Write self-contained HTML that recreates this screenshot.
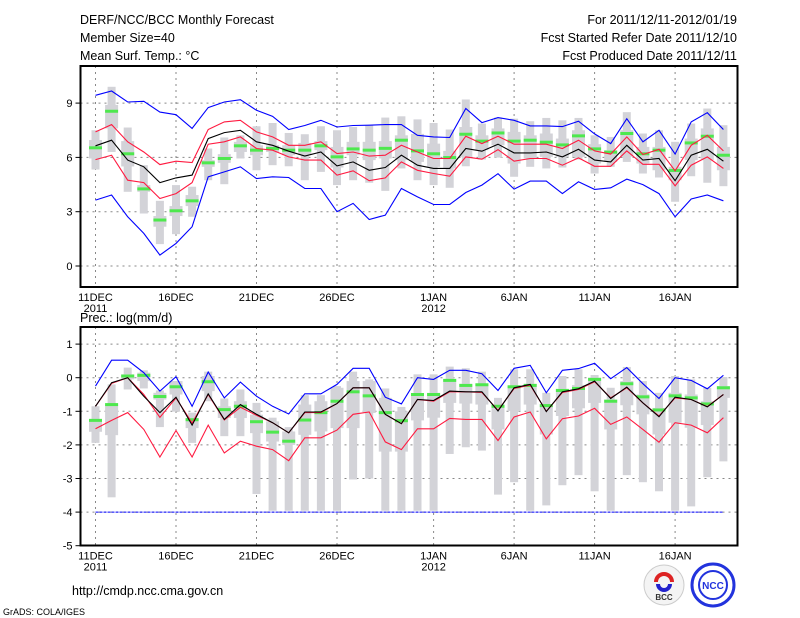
<!DOCTYPE html>
<html><head><meta charset="utf-8"><style>
html,body{margin:0;padding:0;background:#fff;}
svg{display:block;}
text{font-family:"Liberation Sans",sans-serif;fill:#000;}
</style></head><body>
<svg id="chart" width="800" height="618" viewBox="0 0 800 618" xmlns="http://www.w3.org/2000/svg">
<g font-size="12.5">
<text x="80" y="24">DERF/NCC/BCC Monthly Forecast</text>
<text x="80" y="42">Member Size=40</text>
<text x="80" y="60">Mean Surf. Temp.: °C</text>
<text x="737" y="24" text-anchor="end">For 2011/12/11-2012/01/19</text>
<text x="737" y="42" text-anchor="end">Fcst Started Refer Date 2011/12/10</text>
<text x="737" y="60" text-anchor="end">Fcst Produced Date 2011/12/11</text>
</g>
<text x="80" y="322" font-size="12.5">Prec.: log(mm/d)</text>
<text x="72" y="595" font-size="12.5">http://cmdp.ncc.cma.gov.cn</text>
<text x="3" y="615" font-size="9">GrADS: COLA/IGES</text>
<g>
<circle cx="664" cy="585" r="20" fill="#f4f4f4" stroke="#ccc"/>
<path d="M656 582 a8 8 0 1 1 16 0" fill="none" stroke="#d22" stroke-width="4"/>
<path d="M658 584 a6 6 0 0 0 12 0" fill="none" stroke="#22c" stroke-width="4"/>
<text x="664" y="600" font-size="8" text-anchor="middle" font-weight="bold" style="fill:#333">BCC</text>
</g>
<g>
<circle cx="713" cy="585" r="21" fill="#fff" stroke="#2233dd" stroke-width="3"/>
<circle cx="713" cy="585" r="14" fill="none" stroke="#2233dd" stroke-width="2"/>
<text x="713" y="589" font-size="10" text-anchor="middle" font-weight="bold" style="fill:#2233dd">NCC</text>
</g>
<g id="top"></g>
<g id="bot"></g>
</svg>
<script>
// ---- shared categories ----
const dayLabels = ["11DEC","16DEC","21DEC","26DEC","1JAN","6JAN","11JAN","16JAN"];
const dayLabelIdx = [0,5,10,15,21,26,31,36];
const yearLabels = ["2011","2012"];
const yearLabelIdx = [0,21];

// ---- temperature panel data ----
const tTicks = [0,3,6,9];
const tBlueHi = [9.43,9.67,9.06,9.1,8.5,8.36,7.6,8.75,9.06,9.19,8.6,8.27,7.54,7.76,8.05,7.68,7.76,7.78,7.81,7.81,7.22,7.13,7.1,8.7,7.92,8.2,8.05,7.74,7.74,7.7,8.0,7.3,6.76,8.14,6.86,7.5,6.18,7.96,8.47,7.54];
const tBlueLo = [3.64,3.92,2.72,1.8,0.6,1.25,2.17,4.93,5.2,5.48,4.83,4.93,4.89,4.28,4.28,3.0,3.46,2.57,2.81,4.28,3.82,3.4,3.4,4.06,4.47,5.1,4.25,4.69,4.69,4.0,4.65,4.23,4.32,4.8,4.5,4.0,2.72,3.7,3.92,3.6];
const tRedHi = [7.41,7.81,6.86,6.3,5.6,5.79,5.72,7.54,7.96,8.05,7.41,7.13,6.67,6.67,6.86,6.21,6.3,6.07,6.12,6.67,6.3,5.94,5.94,7.17,6.76,7.17,6.73,6.73,6.73,6.49,6.95,6.36,6.18,7.13,6.16,6.45,5.26,6.67,7.22,6.36];
const tMean = [6.64,6.95,5.85,5.48,4.61,4.87,5.02,7.04,7.37,7.5,6.86,6.67,6.34,6.08,6.3,5.53,5.75,5.29,5.44,6.12,5.57,5.39,5.39,6.49,6.34,6.73,6.25,6.25,6.3,6.03,6.45,5.85,5.75,6.67,5.85,5.94,4.71,6.12,6.45,5.79];
const tRedLo = [5.88,6.12,4.74,4.61,3.73,4.0,4.61,6.73,6.86,7.13,6.49,6.4,6.03,5.85,5.85,5.02,5.26,4.71,4.87,5.75,5.29,5.11,4.96,6.03,5.9,6.43,5.79,5.94,5.94,5.57,5.97,5.51,5.51,6.36,5.62,5.62,4.43,5.57,6.03,5.39];
const tMax = [7.5,9.9,7.65,5.57,3.6,4.47,4.38,6.49,7.1,7.22,7.72,7.9,7.35,7.28,7.72,7.5,7.68,7.78,8.2,8.27,8.1,7.9,7.54,9.2,7.87,8.2,8.14,8.0,8.18,8.05,8.18,7.22,7.13,8.5,7.32,7.5,6.86,7.87,8.7,7.78];
const tQ3 = [6.96,8.9,6.9,4.47,2.76,3.31,3.92,5.85,6.18,6.86,6.67,6.67,6.67,6.8,6.9,6.58,6.86,6.86,6.9,7.22,7.3,6.76,6.36,7.68,7.22,7.6,7.41,7.22,7.32,7.04,7.5,6.73,6.4,7.5,6.58,6.58,5.48,7.04,7.6,6.58];
const tMed = [6.53,8.55,6.2,4.26,2.54,3.05,3.6,5.7,5.94,6.64,6.4,6.49,6.4,6.4,6.64,6.03,6.47,6.4,6.5,6.95,6.36,6.2,5.99,7.28,6.9,7.35,6.9,6.95,6.84,6.69,7.19,6.47,6.29,7.32,6.2,6.4,5.28,6.8,7.17,6.12];
const tQ1 = [5.94,7.6,5.5,4.1,2.17,2.76,3.31,5.48,5.7,6.3,6.12,6.3,6.12,6.12,6.4,5.44,6.12,5.85,5.94,5.85,5.75,5.48,5.39,6.03,6.4,6.67,5.66,5.94,6.03,6.03,6.03,5.66,5.75,6.03,5.66,5.29,4.74,5.85,5.85,5.29];
const tMin = [5.33,6.3,4.1,2.9,1.21,1.76,2.72,4.74,4.52,5.94,5.29,5.57,5.51,4.74,5.2,4.47,4.74,4.6,4.15,5.39,4.74,4.47,4.32,5.51,5.88,5.99,4.93,5.48,5.39,5.44,5.88,5.11,5.48,5.75,5.11,4.89,3.55,4.96,4.6,4.41];

// ---- precipitation panel data ----
const pTicks = [1,0,-1,-2,-3,-4,-5];
const pFloor = -4;
const pBlueHi = [-0.25,0.52,0.52,0.15,-0.4,0.03,-0.85,0.17,-0.6,-0.13,-0.55,-0.85,-1.08,-0.48,-0.48,-0.2,0.28,0.28,-0.58,-0.78,0.0,-0.05,0.22,0.22,0.12,-0.38,0.28,0.37,-0.45,0.22,0.27,0.43,-0.03,0.3,-0.18,-0.62,0.0,-0.08,-0.33,0.07];
const pRedHi = [-0.85,-0.17,0.0,-0.5,-1.18,-0.6,-1.35,-0.5,-1.26,-0.88,-1.12,-1.34,-1.64,-1.04,-1.04,-0.77,-0.3,-0.3,-1.09,-1.37,-0.65,-0.7,-0.42,-0.42,-0.44,-0.97,-0.32,-0.22,-1.0,-0.44,-0.35,-0.12,-0.6,-0.3,-0.75,-1.14,-0.6,-0.65,-0.86,-0.5];
const pMean = [-0.85,-0.15,0.0,-0.55,-1.04,-0.58,-1.41,-0.48,-1.24,-0.8,-1.09,-1.34,-1.64,-1.02,-1.02,-0.77,-0.3,-0.3,-1.09,-1.37,-0.65,-0.68,-0.4,-0.42,-0.42,-0.99,-0.3,-0.2,-1.01,-0.42,-0.33,-0.1,-0.62,-0.28,-0.75,-1.16,-0.58,-0.65,-0.87,-0.5];
const pRedLo = [-1.52,-1.27,-1.04,-1.54,-2.36,-1.57,-2.36,-1.41,-2.24,-1.89,-2.04,-2.14,-2.47,-1.79,-1.79,-1.56,-1.09,-1.02,-1.91,-2.14,-1.52,-1.52,-1.21,-1.24,-1.24,-1.87,-1.17,-1.02,-1.82,-1.22,-1.14,-0.91,-1.39,-1.17,-1.54,-1.92,-1.34,-1.41,-1.64,-1.19];
const pMax = [-0.85,-0.2,0.3,0.22,-0.38,-0.1,-1.04,0.18,-0.62,-0.35,-0.75,-1.19,-1.47,-0.52,-0.52,-0.25,0.18,-0.05,-0.32,-0.87,0.1,0.1,0.33,0.28,0.18,-0.6,0.25,0.25,-0.45,0.05,0.25,0.08,-0.3,0.32,-0.1,-0.45,0.05,-0.05,-0.3,0.02];
const pQ3 = [-1.24,-0.8,0.1,0.15,-0.45,-0.1,-1.2,0.05,-0.85,-0.7,-1.1,-1.3,-1.6,-0.8,-0.7,-0.3,-0.1,-0.1,-0.6,-1.0,-0.5,-0.45,-0.05,-0.18,-0.18,-0.8,-0.25,-0.18,-0.8,-0.33,-0.22,0.0,-0.65,-0.1,-0.5,-0.9,-0.45,-0.5,-0.7,-0.25];
const pMed = [-1.27,-0.8,0.05,0.07,-0.56,-0.27,-1.25,-0.12,-0.95,-0.85,-1.31,-1.62,-1.89,-1.26,-1.04,-0.7,-0.42,-0.54,-1.04,-1.28,-0.5,-0.5,-0.08,-0.23,-0.21,-0.85,-0.27,-0.23,-0.83,-0.38,-0.32,-0.05,-0.7,-0.18,-0.57,-0.96,-0.54,-0.6,-0.78,-0.3];
const pQ1 = [-1.61,-1.71,-0.05,-0.1,-0.65,-0.5,-1.5,-0.4,-1.2,-1.2,-1.65,-1.9,-2.0,-1.7,-1.6,-1.5,-1.5,-1.05,-2.2,-2.2,-1.27,-1.19,-0.75,-0.77,-0.8,-1.54,-0.99,-0.8,-1.69,-1.14,-0.91,-0.75,-1.54,-0.82,-1.09,-1.69,-1.34,-1.49,-1.41,-0.6];
const pMin = [-1.94,-3.56,-0.35,-0.32,-1.47,-1.01,-1.94,-0.7,-1.74,-1.74,-3.46,-3.96,-3.96,-3.96,-3.96,-3.96,-3.03,-3.0,-3.96,-3.96,-3.96,-3.96,-2.27,-2.07,-2.17,-3.48,-3.11,-3.96,-3.8,-3.2,-2.9,-3.38,-3.96,-2.9,-3.11,-3.38,-3.96,-3.83,-2.96,-2.49];

const NS = "http://www.w3.org/2000/svg";
const X0 = 80.5, X1 = 737.5;
function xDay(i){ return 95.5 + i * 16.1; }
function mk(parent, tag, attrs){
  const e = document.createElementNS(NS, tag);
  for (const k in attrs) e.setAttribute(k, attrs[k]);
  parent.appendChild(e);
  return e;
}
function drawPanel(g, top, bottom, yFn, ticks, series, boxes, pname){
  // grid
  ticks.forEach(t => {
    const y = yFn(t);
    if (y > top + 2 && y < bottom - 2) {
      const gl = mk(g, "line", {x1:X0, x2:X1, y1:y, y2:y, stroke:"#888", "stroke-dasharray":"2,4", "stroke-width":1});
      
      
    }
    const tk = mk(g, "line", {x1:X0-5, x2:X0, y1:y, y2:y, stroke:"#000"});
    
    
    const tl = mk(g, "text", {x:X0-8, y:y+4, "text-anchor":"end", "font-size":"11"});
    tl.textContent = t;
    
    
  });
  dayLabelIdx.forEach((d, k) => {
    const x = xDay(d);
    const vl = mk(g, "line", {x1:x, x2:x, y1:top, y2:bottom, stroke:"#888", "stroke-dasharray":"2,4"});
    
    
    const xl = mk(g, "text", {x:x, y:bottom+14, "text-anchor":"middle", "font-size":"11"});
    xl.textContent = dayLabels[k];
    
    
  });
  yearLabelIdx.forEach((d, k) => {
    const yl = mk(g, "text", {x:xDay(d), y:bottom+25, "text-anchor":"middle", "font-size":"11"});
    yl.textContent = yearLabels[k];
    
    
  });
  // boxes
  const n = boxes.med.length;
  for (let i = 0; i < n; i++) {
    const x = xDay(i);
    const w = mk(g, "rect", {x:x-4, y:yFn(boxes.max[i]), width:8, height:yFn(boxes.min[i])-yFn(boxes.max[i]), fill:"#d3d3d8"});
    
    
    const b = mk(g, "rect", {x:x-6.5, y:yFn(boxes.q3[i]), width:13, height:Math.max(1,yFn(boxes.q1[i])-yFn(boxes.q3[i])), fill:"#d3d3d8"});
    
    
  }
  for (let i = 0; i < n; i++) {
    const m = mk(g, "rect", {x:xDay(i)-6.5, y:yFn(boxes.med[i])-1.5, width:13, height:3, fill:"#4ee84e"});
    
    
  }
  series.forEach(s => {
    const pts = s.data.map((v,i) => xDay(i).toFixed(1) + "," + yFn(v).toFixed(1)).join(" ");
    const pl = mk(g, "polyline", {points:pts, fill:"none", stroke:s.color, "stroke-width":1.1});
    
    
  });
  const fr = mk(g, "rect", {x:X0, y:top, width:X1-X0, height:bottom-top, fill:"none", stroke:"#000", "stroke-width":2});
  
  
}
const yT = v => 266 - v * 18.1;
drawPanel(document.getElementById("top"), 66, 287, yT, tTicks,
  [{data:tBlueHi,color:"#0000ff",name:"temp-max-line"},{data:tBlueLo,color:"#0000ff",name:"temp-min-line"},
   {data:tRedHi,color:"#ff1a40",name:"temp-upper-line"},{data:tRedLo,color:"#ff1a40",name:"temp-lower-line"},
   {data:tMean,color:"#000",name:"temp-mean-line"}],
  {max:tMax,q3:tQ3,med:tMed,q1:tQ1,min:tMin}, "temp");
const yP = v => 377.7 - v * 33.6;
const bg = document.getElementById("bot");
drawPanel(bg, 327, 545.5, yP, pTicks,
  [{data:pBlueHi,color:"#0000ff",name:"prec-max-line"},{data:pRedLo,color:"#ff1a40",name:"prec-lower-line"},
   {data:pRedHi,color:"#ff1a40",name:"prec-upper-line"},{data:pMean,color:"#000",name:"prec-mean-line"}],
  {max:pMax,q3:pQ3,med:pMed,q1:pQ1,min:pMin}, "prec");
const fl = mk(bg, "line", {x1:xDay(0), x2:xDay(pMean.length-1), y1:yP(pFloor), y2:yP(pFloor), stroke:"#0000ff", "stroke-dasharray":"3,1"});


</script>
</body></html>
